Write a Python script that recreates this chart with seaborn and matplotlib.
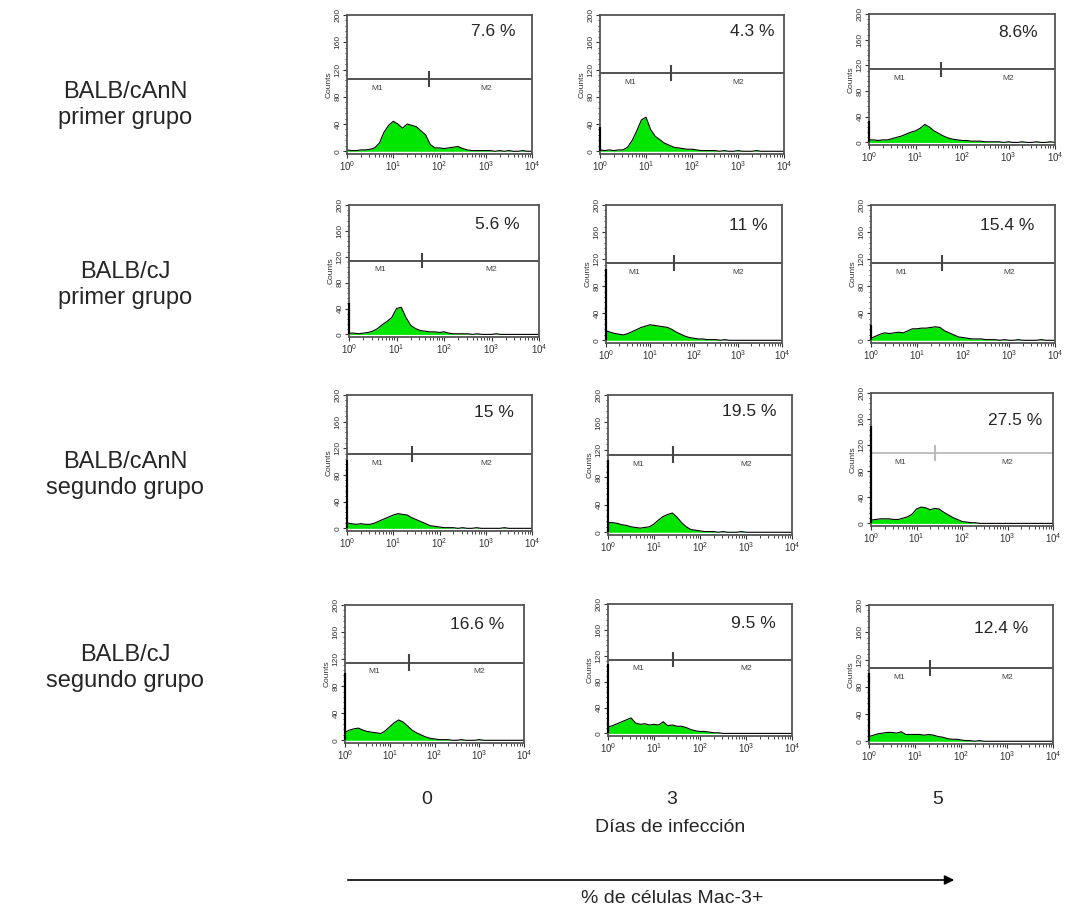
import matplotlib.pyplot as plt
import matplotlib.ticker as mticker
import numpy as np
import pandas as pd
import seaborn as sns

# === Data ===
row_labels = ["BALB/cAnN\nprimer grupo", "BALB/cJ\nprimer grupo",
              "BALB/cAnN\nsegundo grupo", "BALB/cJ\nsegundo grupo"]
day_labels = ["0", "3", "5"]
pct_labels = [["7.6 %", "4.3 %", "8.6%"],
              ["5.6 %", "11 %", "15.4 %"],
              ["15 %", "19.5 %", "27.5 %"],
              ["16.6 %", "9.5 %", "12.4 %"]]

# fluorescence channel (log10 of intensity)
fl_log = [0.0, 0.1, 0.2, 0.3, 0.4, 0.5, 0.6, 0.7, 0.8, 0.9,
          1.0, 1.1, 1.2, 1.3, 1.4, 1.5, 1.6, 1.7, 1.8, 1.9,
          2.0, 2.1, 2.2, 2.3, 2.4, 2.5, 2.6, 2.7, 2.8, 2.9,
          3.0, 3.1, 3.2, 3.3, 3.4, 3.5, 3.6, 3.7, 3.8, 3.9, 4.0]

# counts per channel, one list per panel (row = strain/group, col = day)
cann1_d0 = [2, 1, 1, 2, 2, 3, 5, 12, 28, 38, 44, 40, 34, 40, 38, 36, 30, 24, 10, 5,
            5, 4, 5, 6, 7, 4, 2, 1, 1, 1, 1, 1, 0, 1, 0, 1, 0, 0, 1, 0, 0]
cann1_d3 = [2, 1, 2, 1, 2, 2, 6, 16, 30, 46, 50, 32, 22, 17, 12, 9, 6, 5, 4, 3,
            3, 2, 1, 1, 1, 1, 0, 1, 0, 0, 1, 0, 0, 0, 1, 0, 0, 0, 0, 0, 0]
cann1_d5 = [4, 4, 3, 4, 4, 6, 8, 10, 13, 16, 18, 22, 28, 24, 18, 14, 10, 7, 5, 4,
            3, 3, 2, 2, 2, 1, 1, 1, 1, 0, 1, 0, 0, 1, 0, 0, 1, 0, 0, 1, 0]
cj1_d0 = [2, 2, 1, 2, 3, 5, 9, 15, 20, 26, 40, 42, 26, 14, 9, 6, 5, 4, 4, 3,
          4, 2, 1, 1, 1, 1, 0, 1, 0, 0, 0, 1, 0, 0, 0, 0, 0, 0, 0, 0, 0]
cj1_d3 = [14, 12, 10, 9, 8, 10, 13, 16, 19, 21, 23, 22, 21, 20, 19, 16, 12, 9, 6, 4,
          3, 2, 2, 1, 1, 1, 0, 1, 0, 0, 0, 0, 0, 0, 0, 0, 0, 0, 0, 0, 0]
cj1_d5 = [3, 6, 9, 11, 10, 11, 12, 11, 14, 17, 17, 18, 18, 19, 20, 19, 14, 11, 8, 5,
          4, 3, 2, 2, 2, 1, 1, 1, 0, 1, 0, 0, 1, 0, 0, 0, 0, 1, 0, 0, 0]
cann2_d0 = [8, 7, 6, 7, 6, 6, 8, 11, 14, 17, 20, 22, 21, 20, 16, 13, 10, 7, 4, 3,
            2, 1, 1, 1, 0, 1, 0, 0, 1, 0, 0, 0, 0, 0, 1, 0, 0, 0, 0, 0, 0]
cann2_d3 = [14, 14, 13, 11, 10, 8, 7, 6, 7, 8, 12, 18, 23, 26, 28, 22, 14, 8, 4, 3,
            2, 1, 1, 1, 0, 1, 0, 0, 0, 1, 0, 0, 0, 0, 0, 0, 0, 0, 0, 0, 0]
cann2_d5 = [5, 6, 7, 7, 7, 6, 6, 8, 10, 14, 22, 25, 24, 21, 23, 22, 17, 13, 9, 6,
            3, 2, 1, 1, 0, 0, 0, 0, 0, 0, 0, 0, 0, 0, 0, 0, 0, 0, 0, 0, 0]
cj2_d0 = [12, 15, 17, 18, 15, 13, 12, 11, 10, 14, 20, 26, 30, 27, 21, 15, 11, 8, 5, 3,
          2, 1, 1, 1, 0, 0, 1, 0, 0, 0, 1, 0, 0, 0, 0, 0, 0, 0, 0, 0, 0]
cj2_d3 = [10, 12, 15, 18, 21, 24, 16, 14, 15, 13, 14, 13, 18, 12, 13, 11, 11, 9, 6, 4,
          3, 3, 2, 1, 1, 0, 0, 0, 0, 0, 0, 0, 0, 0, 0, 0, 0, 0, 0, 0, 0]
cj2_d5 = [7, 9, 11, 12, 13, 13, 12, 14, 10, 10, 10, 10, 9, 10, 9, 7, 6, 4, 3, 3,
          2, 1, 1, 0, 1, 0, 0, 0, 0, 0, 0, 0, 0, 0, 0, 0, 0, 0, 0, 0, 0]

# pile-up in the first channel (vertical line at 10^0)
first_channel = [[0, 35, 33], [49, 106, 23], [103, 105, 150], [99, 107, 100]]

# M1/M2 gate: split position (log10) and marker level (counts)
gate_log = [[1.78, 1.54, 1.55], [1.53, 1.55, 1.54], [1.41, 1.41, 1.41], [1.42, 1.41, 1.32]]
gate_level = [[106, 115, 114], [114, 114, 114], [112, 113, 108], [115, 114, 108]]

panels = [[cann1_d0, cann1_d3, cann1_d5],
          [cj1_d0, cj1_d3, cj1_d5],
          [cann2_d0, cann2_d3, cann2_d5],
          [cj2_d0, cj2_d3, cj2_d5]]

# === Layout (pixel boxes: left, top, right, bottom) ===
W, H = 1065, 913
boxes = [[(347, 15, 532, 154), (600, 15, 784, 154), (869, 14, 1055, 145)],
         [(349, 205, 539, 337), (606, 205, 782, 343), (871, 205, 1055, 343)],
         [(347, 395, 532, 531), (608, 395, 792, 535), (871, 393, 1053, 526)],
         [(345, 605, 524, 743), (608, 604, 792, 736), (869, 605, 1053, 744)]]
pct_pos = [[(0.79, 0.88), (0.83, 0.88), (0.80, 0.855)],
           [(0.78, 0.85), (0.81, 0.855), (0.74, 0.855)],
           [(0.795, 0.875), (0.77, 0.88), (0.79, 0.79)],
           [(0.74, 0.86), (0.79, 0.855), (0.72, 0.83)]]
row_y = [105, 285, 475, 668]
day_x = [427, 672, 938]

sns.set_style("ticks")
plt.rcParams['font.family'] = ['Liberation Sans', 'DejaVu Sans']
plt.rcParams['mathtext.fontset'] = 'custom'
plt.rcParams['mathtext.rm'] = 'Liberation Sans'

fig = plt.figure(figsize=(W / 100, H / 100), dpi=100)


def fx(px):
    return px / W


def fy(py):
    return 1 - py / H


x_vals = 10 ** np.array(fl_log)

for r in range(4):
    for c in range(3):
        l, t, rr, b = boxes[r][c]
        ax = fig.add_axes([fx(l), fy(b), (rr - l) / W, (b - t) / H])
        df = pd.DataFrame({"fl": x_vals, "counts": panels[r][c]})
        ax.fill_between(df["fl"], 0, df["counts"], color="#00e600", lw=0)
        sns.lineplot(data=df, x="fl", y="counts", ax=ax, color="black", lw=0.8)
        ax.vlines(1.0, 0, first_channel[r][c], color="black", lw=1.6,
                  zorder=4, clip_on=False)

        # marker gate M1 / M2
        gcol = "#bbbbbb" if (r, c) == (2, 2) else "#444444"
        lvl = gate_level[r][c]
        gx = 10 ** gate_log[r][c]
        ax.hlines(lvl, 1, 1e4, color=gcol, lw=1.3)
        ax.vlines(gx, lvl - 12, lvl + 12, color=gcol, lw=1.5)
        ax.text(10 ** 0.65, lvl - 14, "M1", fontsize=6, color="#444444",
                ha="center", va="center")
        ax.text(10 ** 3.0, lvl - 14, "M2", fontsize=6, color="#444444",
                ha="center", va="center")

        ax.text(pct_pos[r][c][0], pct_pos[r][c][1], pct_labels[r][c],
                transform=ax.transAxes, fontsize=12.5, ha="center", va="center")

        ax.set_xscale("log")
        ax.set_xlim(1, 1e4)
        ax.set_ylim(-4, 200)
        ax.set_yticks([0, 40, 80, 120, 160, 200])
        ax.yaxis.set_minor_locator(mticker.MultipleLocator(8))
        ax.xaxis.set_major_locator(mticker.LogLocator(base=10, numticks=5))
        ax.xaxis.set_minor_locator(mticker.LogLocator(base=10, subs=np.arange(2, 10), numticks=10))
        ax.tick_params(axis="y", labelsize=6, labelrotation=90, length=3, width=0.8, pad=1,
                       colors="#333333")
        ax.tick_params(axis="x", labelsize=7, length=3, width=0.8, pad=1, colors="#333333")
        ax.tick_params(which="minor", length=1.8, width=0.6)
        for lab in ax.get_yticklabels():
            lab.set_va("center")
        ax.set_xlabel("")
        ax.set_ylabel("Counts", fontsize=6, labelpad=1, color="#333333")
        for sp in ax.spines.values():
            sp.set_visible(True)
            sp.set_color("#555555")
            sp.set_linewidth(1.3)

# row labels
for r, lab in enumerate(row_labels):
    fig.text(fx(125), fy(row_y[r]), lab, fontsize=17, ha="center", va="center",
             linespacing=1.2)

# day labels and axis titles
for c, lab in enumerate(day_labels):
    fig.text(fx(day_x[c]), fy(799), lab, fontsize=14, ha="center", va="center")
fig.text(fx(670), fy(827), "Días de infección", fontsize=14, ha="center", va="center")
fig.text(fx(672), fy(898), "% de células Mac-3+", fontsize=14, ha="center", va="center")
fig.add_artist(plt.Annotation("", xy=(fx(957), fy(880)), xytext=(fx(345), fy(880)),
                              xycoords="figure fraction", textcoords="figure fraction",
                              arrowprops=dict(arrowstyle="-|>", color="black", lw=1.2,
                                              mutation_scale=14)))

plt.savefig("out.png", dpi=100)
